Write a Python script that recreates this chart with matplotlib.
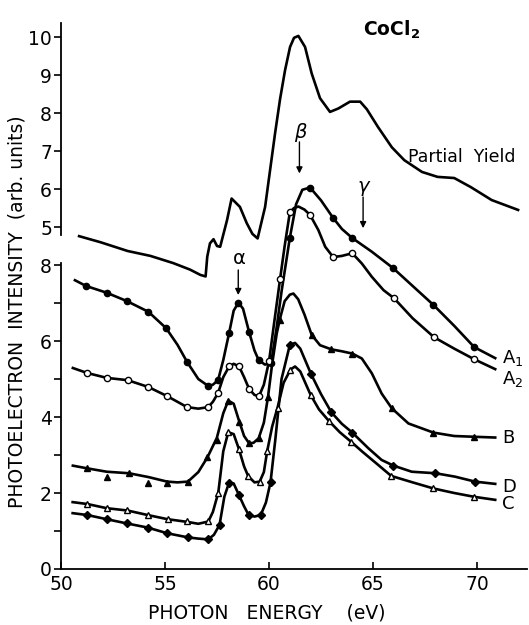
import matplotlib
matplotlib.use("Agg")
import matplotlib.pyplot as plt

plt.rcParams['font.family'] = ['DejaVu Sans']
plt.rcParams['mathtext.default'] = 'regular'

# Partial yield curve (values on the upper scale, 5..10)
py_x = [50.87, 51.9, 53.2, 54.3, 55.4, 56.2, 56.7, 56.95, 57.03, 57.16, 57.33, 57.5, 57.65, 57.98, 58.2,
        58.6, 58.93, 59.2, 59.45, 59.81, 60.05, 60.29, 60.53, 60.77, 61.01, 61.2, 61.41, 61.73, 62.05,
        62.45, 62.93, 63.33, 63.89, 64.38, 64.7, 65.24, 65.9, 66.5, 67.35, 68.1, 68.9, 69.7, 70.7, 71.97]
py_y = [4.76, 4.6, 4.37, 4.24, 4.05, 3.88, 3.74, 3.7, 4.22, 4.57, 4.68, 4.5, 4.48, 5.18, 5.75,
        5.53, 5.1, 4.82, 4.7, 5.53, 6.5, 7.47, 8.37, 9.13, 9.74, 9.98, 10.03, 9.74, 9.04,
        8.39, 8.03, 8.12, 8.3, 8.3, 8.1, 7.63, 7.1, 6.76, 6.45, 6.32, 6.29, 6.05, 5.71, 5.45]
py_offset = 4  # upper scale sits 4 units above the lower one

# A1 (filled circles)
a1_x = [50.67, 51.2, 52.2, 53.17, 54.2, 55.05, 55.6, 56.06, 56.6, 57.07, 57.3, 57.55, 57.8, 58.08, 58.3,
        58.53, 58.75, 59.04, 59.3, 59.5, 59.8, 60.1, 60.35, 60.6, 61.0, 61.3, 61.6, 61.97, 62.5, 63.08,
        63.5, 64.0, 64.94, 65.96, 66.9, 67.9, 68.9, 69.86, 70.87]
a1_y = [7.6, 7.45, 7.27, 7.05, 6.77, 6.34, 5.9, 5.45, 5.0, 4.82, 4.85, 4.97, 5.5, 6.21, 6.8,
        7.01, 6.85, 6.24, 5.75, 5.5, 5.38, 5.42, 6.3, 7.3, 8.72, 9.6, 9.98, 10.04, 9.7, 9.24,
        8.95, 8.71, 8.35, 7.92, 7.45, 6.95, 6.4, 5.84, 5.55]
a1_mx = [51.2, 52.2, 53.17, 54.2, 55.05, 56.06, 57.07, 57.55, 58.08, 58.53, 59.04, 59.5, 60.1, 61.0,
         61.97, 63.08, 64.0, 65.96, 67.9, 69.86]
a1_my = [7.45, 7.27, 7.05, 6.77, 6.34, 5.45, 4.82, 4.97, 6.21, 7.01, 6.24, 5.5, 5.42, 8.72,
         10.04, 9.24, 8.71, 7.92, 6.95, 5.84]

# A2 (open circles)
a2_x = [50.57, 51.25, 52.2, 53.2, 54.2, 55.1, 55.6, 56.06, 56.6, 57.07, 57.3, 57.55, 57.8, 58.08, 58.3,
        58.56, 58.8, 59.04, 59.3, 59.52, 59.75, 60.0, 60.25, 60.53, 60.75, 61.0, 61.2, 61.41, 61.7,
        61.97, 62.37, 62.7, 63.08, 63.5, 64.0, 64.46, 64.94, 65.5, 66.0, 66.9, 67.93, 68.9, 69.86, 70.87]
a2_y = [5.29, 5.16, 5.03, 4.97, 4.79, 4.55, 4.4, 4.26, 4.22, 4.26, 4.4, 4.63, 5.05, 5.33, 5.4,
        5.33, 5.05, 4.74, 4.58, 4.55, 4.85, 5.47, 6.5, 7.63, 8.5, 9.39, 9.5, 9.54, 9.46,
        9.32, 8.92, 8.48, 8.21, 8.24, 8.31, 8.04, 7.69, 7.34, 7.13, 6.6, 6.1, 5.8, 5.52, 5.26]
a2_mx = [51.25, 52.2, 53.2, 54.2, 55.1, 56.06, 57.07, 57.55, 58.08, 58.56, 59.04, 59.52, 60.0, 60.53,
         61.0, 61.97, 63.08, 64.0, 66.0, 67.93, 69.86]
a2_my = [5.16, 5.03, 4.97, 4.79, 4.55, 4.26, 4.26, 4.63, 5.33, 5.33, 4.74, 4.55, 5.47, 7.63,
         9.39, 9.32, 8.21, 8.31, 7.13, 6.1, 5.52]

# B (filled triangles)
b_x = [50.57, 51.25, 52.2, 53.27, 54.2, 55.1, 55.6, 56.1, 56.6, 57.04, 57.49, 57.8, 58.04, 58.3, 58.57,
       58.8, 59.04, 59.25, 59.5, 59.75, 59.95, 60.15, 60.37, 60.53, 60.75, 61.0, 61.17, 61.4, 61.7,
       62.05, 62.45, 63.0, 63.5, 64.0, 64.46, 64.94, 65.41, 65.9, 66.7, 67.9, 68.9, 69.87, 70.87]
b_y = [2.72, 2.65, 2.56, 2.52, 2.42, 2.3, 2.28, 2.3, 2.55, 2.94, 3.45, 4.1, 4.43, 4.35, 3.88,
       3.5, 3.31, 3.32, 3.44, 3.85, 4.53, 5.4, 6.2, 6.6, 7.05, 7.22, 7.25, 7.1, 6.7,
       6.16, 5.89, 5.78, 5.73, 5.67, 5.54, 5.15, 4.62, 4.23, 3.83, 3.59, 3.5, 3.48, 3.46]
b_mx = [51.25, 52.2, 53.27, 54.2, 55.1, 56.1, 57.04, 57.49, 58.04, 58.57, 59.04, 59.5, 59.95, 60.53,
        62.05, 63.0, 64.0, 65.9, 67.9, 69.87]
b_my = [2.65, 2.43, 2.52, 2.27, 2.27, 2.3, 2.94, 3.39, 4.43, 3.88, 3.31, 3.44, 4.53, 6.55,
        6.16, 5.78, 5.67, 4.23, 3.59, 3.48]

# D (filled diamonds)
d_x = [50.56, 51.27, 52.2, 53.16, 54.17, 55.11, 56.12, 56.6, 57.08, 57.35, 57.62, 57.85, 58.07, 58.3,
       58.55, 58.8, 59.02, 59.3, 59.6, 59.85, 60.07, 60.3, 60.6, 61.0, 61.25, 61.5, 62.02, 62.5, 63.0,
       63.5, 64.0, 64.77, 65.41, 65.98, 66.86, 68.0, 68.94, 69.9, 70.87]
d_y = [1.47, 1.42, 1.31, 1.2, 1.09, 0.94, 0.83, 0.8, 0.78, 0.9, 1.16, 1.9, 2.26, 2.25,
       1.95, 1.65, 1.42, 1.38, 1.42, 1.75, 2.28, 3.4, 5.0, 5.9, 5.95, 5.8, 5.13, 4.6, 4.12,
       3.82, 3.59, 3.18, 2.87, 2.72, 2.56, 2.52, 2.43, 2.3, 2.24]
d_mx = [51.27, 52.2, 53.16, 54.17, 55.11, 56.12, 57.08, 57.62, 58.07, 58.55, 59.02, 59.6, 60.07, 61.0,
        62.02, 63.0, 64.0, 65.98, 68.0, 69.9]
d_my = [1.42, 1.31, 1.2, 1.09, 0.94, 0.83, 0.78, 1.16, 2.26, 1.95, 1.42, 1.42, 2.28, 5.9,
        5.13, 4.12, 3.59, 2.72, 2.52, 2.3]

# C (open triangles)
c_x = [50.56, 51.27, 52.2, 53.19, 54.17, 55.13, 56.07, 56.6, 57.08, 57.3, 57.56, 57.8, 58.04, 58.3,
       58.55, 58.8, 59.0, 59.3, 59.55, 59.75, 59.91, 60.15, 60.41, 60.7, 61.03, 61.25, 61.5, 62.0, 62.4,
       62.87, 63.4, 63.94, 64.5, 65.2, 65.87, 66.9, 67.9, 68.9, 69.86, 70.87]
c_y = [1.76, 1.71, 1.6, 1.54, 1.42, 1.31, 1.24, 1.19, 1.25, 1.5, 2.01, 3.1, 3.6, 3.55,
       3.16, 2.7, 2.44, 2.28, 2.3, 2.55, 3.1, 3.75, 4.25, 4.9, 5.25, 5.33, 5.2, 4.58, 4.2,
       3.9, 3.6, 3.35, 3.08, 2.76, 2.45, 2.28, 2.12, 2.0, 1.9, 1.82]
c_mx = [51.27, 52.2, 53.19, 54.17, 55.13, 56.07, 57.08, 57.56, 58.04, 58.55, 59.0, 59.55, 59.91, 60.41,
        61.03, 62.0, 62.87, 63.94, 65.87, 67.9, 69.86]
c_my = [1.71, 1.6, 1.54, 1.42, 1.31, 1.26, 1.27, 2.01, 3.6, 3.16, 2.44, 2.3, 3.1, 4.25,
        5.25, 4.58, 3.9, 3.35, 2.45, 2.12, 1.9]

lower_ticks = [0, 1, 2, 3, 4, 5, 6, 7, 8]
lower_labels = ['0', '', '2', '', '4', '', '6', '', '8']
upper_ticks = [5, 6, 7, 8, 9, 10]
x_ticks = [50, 55, 60, 65, 70]

fig = plt.figure(figsize=(5.29, 6.25), dpi=100)
ax = fig.add_axes([0.1153, 0.0896, 0.881, 0.8736])

lw = 1.9
ax.plot([x for x in py_x], [y + py_offset for y in py_y], color='k', lw=lw)
ax.plot(a1_x, a1_y, color='k', lw=lw)
ax.plot(a1_mx, a1_my, 'o', color='k', ms=4.5)
ax.plot(a2_x, a2_y, color='k', lw=lw)
ax.plot(a2_mx, a2_my, 'o', mfc='white', mec='k', mew=1.0, ms=4.5)
ax.plot(b_x, b_y, color='k', lw=lw)
ax.plot(b_mx, b_my, '^', color='k', ms=5)
ax.plot(d_x, d_y, color='k', lw=lw)
ax.plot(d_mx, d_my, 'D', color='k', ms=4.2)
ax.plot(c_x, c_y, color='k', lw=lw)
ax.plot(c_mx, c_my, '^', mfc='white', mec='k', mew=1.0, ms=5)

ax.set_xlim(50, 72.4)
ax.set_ylim(0, 14.37)

# axes: only left and bottom, left one broken between the two scales
ax.spines['top'].set_visible(False)
ax.spines['right'].set_visible(False)
ax.spines['left'].set_linewidth(1.3)
ax.spines['bottom'].set_linewidth(1.3)
ax.spines['left'].set_bounds(0, 8.05)
ax.axvline(50, ymin=8.79 / 14.37, ymax=1, color='k', lw=1.3, clip_on=False)

ax.set_yticks(lower_ticks + [t + py_offset for t in upper_ticks])
ax.set_yticklabels(lower_labels + [str(t) for t in upper_ticks])
ax.set_xticks(x_ticks)
ax.set_xticklabels([str(t) for t in x_ticks])
ax.tick_params(axis='y', direction='out', length=5, width=1.2, pad=1.5, labelsize=13.5)
ax.tick_params(axis='x', direction='in', length=5, width=1.2, pad=4, labelsize=13.5)

fig.text(267 / 529, 1 - 613 / 625, 'PHOTON   ENERGY    (eV)', ha='center', va='center', fontsize=13.5)
fig.text(17 / 529, 1 - 312 / 625, 'PHOTOELECTRON  INTENSITY  (arb. units)', ha='center', va='center',
         rotation=90, fontsize=13.5)

# curve labels
ax.text(64.52, 14.18, 'CoCl$_2$', ha='left', va='center', fontsize=13.5, fontweight='bold')
ax.text(66.68, 10.84, 'Partial  Yield', ha='left', va='center', fontsize=12.5)
ax.text(71.2, 5.55, 'A$_1$', ha='left', va='center', fontsize=13)
ax.text(71.2, 5.0, 'A$_2$', ha='left', va='center', fontsize=13)
ax.text(71.2, 3.45, 'B', ha='left', va='center', fontsize=13)
ax.text(71.2, 2.16, 'D', ha='left', va='center', fontsize=13)
ax.text(71.2, 1.71, 'C', ha='left', va='center', fontsize=13)

# structure markers
arrow = dict(arrowstyle='-|>', lw=1.0, color='k', mutation_scale=9, shrinkA=0, shrinkB=0)
ax.text(58.56, 8.16, 'α', ha='center', va='center', fontsize=14)
ax.annotate('', xy=(58.52, 7.21), xytext=(58.52, 7.87), arrowprops=arrow)
ax.text(61.49, 11.49, 'β', ha='center', va='center', fontsize=14, fontstyle='italic')
ax.annotate('', xy=(61.46, 10.41), xytext=(61.46, 11.24), arrowprops=arrow)
ax.text(64.52, 10.08, 'γ', ha='center', va='center', fontsize=14, fontstyle='italic')
ax.annotate('', xy=(64.52, 8.97), xytext=(64.52, 9.79), arrowprops=arrow)

fig.savefig('out.png', dpi=100)
